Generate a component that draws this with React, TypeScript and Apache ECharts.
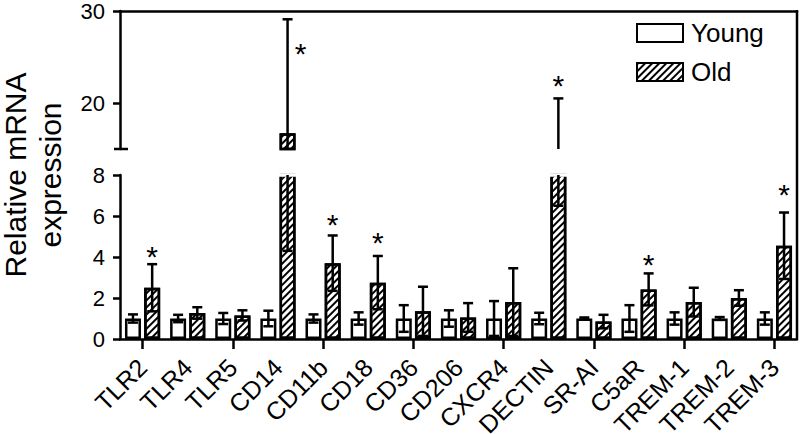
import React, { useEffect, useRef } from 'react';
import * as echarts from 'echarts';

const categories = ['TLR2', 'TLR4', 'TLR5', 'CD14', 'CD11b', 'CD18', 'CD36', 'CD206', 'CXCR4', 'DECTIN', 'SR-AI', 'C5aR', 'TREM-1', 'TREM-2', 'TREM-3'];
const youngMean = [1.0, 1.0, 1.0, 1.0, 1.0, 1.0, 1.0, 1.0, 1.0, 1.0, 1.0, 1.0, 1.0, 1.0, 1.0];
const youngErr = [0.2, 0.18, 0.27, 0.38, 0.2, 0.3, 0.65, 0.4, 0.85, 0.28, 0.05, 0.65, 0.3, 0.07, 0.3];
const oldMean = [2.5, 1.27, 1.15, 16.7, 3.7, 2.75, 1.35, 1.05, 1.8, 13.5, 0.85, 2.42, 1.8, 2.0, 4.55];
const oldErr = [1.15, 0.28, 0.25, 12.4, 1.35, 1.3, 1.2, 0.7, 1.65, 7.0, 0.33, 0.78, 0.7, 0.38, 1.62];
const starCategories = ['TLR2', 'CD14', 'CD11b', 'CD18', 'DECTIN', 'C5aR', 'TREM-3'];
const starValues = [4.35, 26.1, 5.95, 5.07, 22.7, 4.0, 7.37];
const lowerRange = [0, 8];
const upperRange = [15, 30];
const lowerTicks = [0, 2, 4, 6, 8];
const upperTicks = [20, 30];
const seriesNames = ['Young', 'Old'];
const yNameLines = ['Relative mRNA', 'expression'];

const FONT = "'Liberation Sans', Arial, Helvetica, sans-serif";
const BAR_W = 16;
const BAR_GAP = 0.2;
const HALF = (BAR_W * (1 + BAR_GAP)) / 2;
const LW = 2.5;

const hatch = {
  symbol: 'rect',
  symbolSize: 1,
  dashArrayX: [1, 0],
  dashArrayY: [1.3, 2.8],
  rotation: -Math.PI / 4,
  color: '#000',
};

const youngStyle = { color: '#fff', borderColor: '#000', borderWidth: LW };
const oldStyle = { color: '#fff', borderColor: '#000', borderWidth: LW, decal: hatch };

function errorRender(dx: number) {
  return (params: any, api: any) => {
    const i = api.value(0);
    const m = api.value(1);
    const e = api.value(2);
    const top = api.coord([i, m + e]);
    const bot = api.coord([i, m - e]);
    const x = top[0] + dx;
    const cap = 5;
    const style = { stroke: '#000', lineWidth: LW };
    return {
      type: 'group',
      children: [
        { type: 'line', shape: { x1: x, y1: top[1], x2: x, y2: bot[1] }, style },
        { type: 'line', shape: { x1: x - cap, y1: top[1], x2: x + cap, y2: top[1] }, style },
        { type: 'line', shape: { x1: x - cap, y1: bot[1], x2: x + cap, y2: bot[1] }, style },
      ],
    };
  };
}

function starRender(params: any, api: any) {
  const i = api.value(0);
  const v = api.value(1);
  const errTop = api.value(2);
  const p = api.coord([i, v]);
  const beside = v < errTop;
  return {
    type: 'text',
    x: p[0] + HALF + (beside ? 13 : 0),
    y: p[1] + 7,
    style: {
      text: '*',
      font: `30px ${FONT}`,
      fill: '#000',
      align: 'center',
      verticalAlign: 'middle',
    },
  };
}

export default function App() {
  const ref = useRef<HTMLDivElement>(null);
  useEffect(() => {
    document.body.style.margin = '0';
    if (!ref.current) return;
    const chart = echarts.init(ref.current, null, { renderer: 'svg' });

    const stars = starCategories.map((c, k) => {
      const i = categories.indexOf(c);
      return [i, starValues[k], oldMean[i] + oldErr[i]];
    });
    const starsLower = stars.filter((s) => s[1] <= lowerRange[1]);
    const starsUpper = stars.filter((s) => s[1] >= upperRange[0]);

    const youngErrData = youngMean.map((m, i) => [i, m, youngErr[i]]);
    const oldErrData = oldMean.map((m, i) => [i, m, oldErr[i]]);

    const axisLine = { show: true, onZero: false, lineStyle: { color: '#000', width: LW } };
    const yLabel = { color: '#000', fontSize: 22, fontFamily: FONT, margin: 15 };
    const yTick = { show: true, length: 7, lineStyle: { color: '#000', width: LW } };

    const baseGraphic: any[] = [
      ...yNameLines.map((t, k) => ({
        id: 'yname' + k,
        type: 'text',
        x: 15 + k * 35,
        y: 175,
        rotation: Math.PI / 2,
        style: { text: t, font: `30px ${FONT}`, fill: '#000', align: 'center', verticalAlign: 'middle' },
      })),
      { id: 'cover', type: 'rect', shape: { x: 122, y: 173.3, width: 673, height: 3.4 }, style: { fill: '#fff' }, z: 3 },
      { id: 'brk', type: 'line', shape: { x1: 114, y1: 149, x2: 128, y2: 149 }, style: { stroke: '#000', lineWidth: LW }, z: 4 },
      { id: 'rborder', type: 'line', shape: { x1: 797, y1: 10, x2: 797, y2: 339 }, style: { stroke: '#000', lineWidth: LW }, z: 4 },
    ];

    const option: any = {
      animation: false,
      backgroundColor: '#fff',
      grid: [
        { left: 120, right: 3, top: 11, height: 138, outerBoundsMode: 'none' },
        { left: 120, right: 3, top: 175, height: 164, outerBoundsMode: 'none' },
      ],
      legend: {
        data: seriesNames,
        orient: 'vertical',
        left: 636,
        top: 20,
        padding: 0,
        icon: 'rect',
        itemWidth: 46,
        itemHeight: 18,
        itemGap: 13,
        selectedMode: false,
        textStyle: { fontSize: 26, fontFamily: FONT, color: '#000', lineHeight: 25, padding: [0, 0, 0, 3] },
      },
      xAxis: [
        {
          type: 'category',
          gridIndex: 0,
          data: categories,
          position: 'top',
          axisLine,
          axisTick: { show: false },
          axisLabel: { show: false },
        },
        {
          type: 'category',
          gridIndex: 1,
          data: categories,
          position: 'bottom',
          axisLine,
          axisTick: { show: true, alignWithLabel: true, length: 10, lineStyle: { color: '#000', width: LW } },
          axisLabel: { show: false },
        },
      ],
      yAxis: [
        {
          type: 'value',
          gridIndex: 0,
          min: upperRange[0],
          max: upperRange[1],
          splitLine: { show: false },
          axisLine,
          axisTick: { ...yTick, customValues: upperTicks },
          axisLabel: { ...yLabel, customValues: upperTicks },
        },
        {
          type: 'value',
          gridIndex: 1,
          min: lowerRange[0],
          max: lowerRange[1],
          interval: 2,
          splitLine: { show: false },
          axisLine,
          axisTick: { ...yTick, customValues: lowerTicks },
          axisLabel: { ...yLabel, customValues: lowerTicks },
        },
      ],
      series: [
        { name: 'Young', type: 'bar', xAxisIndex: 1, yAxisIndex: 1, data: youngMean, barWidth: BAR_W, barGap: `${BAR_GAP * 100}%`, itemStyle: youngStyle },
        { name: 'Old', type: 'bar', xAxisIndex: 1, yAxisIndex: 1, data: oldMean, barWidth: BAR_W, barGap: `${BAR_GAP * 100}%`, itemStyle: oldStyle },
        { name: 'Young', type: 'bar', xAxisIndex: 0, yAxisIndex: 0, data: youngMean, barWidth: BAR_W, barGap: `${BAR_GAP * 100}%`, itemStyle: youngStyle, clip: true },
        { name: 'Old', type: 'bar', xAxisIndex: 0, yAxisIndex: 0, data: oldMean, barWidth: BAR_W, barGap: `${BAR_GAP * 100}%`, itemStyle: oldStyle, clip: true },
        { name: 'yerrL', type: 'custom', xAxisIndex: 1, yAxisIndex: 1, data: youngErrData, renderItem: errorRender(-HALF), clip: true, z: 5 },
        { name: 'oerrL', type: 'custom', xAxisIndex: 1, yAxisIndex: 1, data: oldErrData, renderItem: errorRender(HALF), clip: true, z: 5 },
        { name: 'yerrU', type: 'custom', xAxisIndex: 0, yAxisIndex: 0, data: youngErrData, renderItem: errorRender(-HALF), clip: true, z: 5 },
        { name: 'oerrU', type: 'custom', xAxisIndex: 0, yAxisIndex: 0, data: oldErrData, renderItem: errorRender(HALF), clip: true, z: 5 },
        { name: 'starL', type: 'custom', xAxisIndex: 1, yAxisIndex: 1, data: starsLower, renderItem: starRender, z: 6 },
        { name: 'starU', type: 'custom', xAxisIndex: 0, yAxisIndex: 0, data: starsUpper, renderItem: starRender, z: 6 },
      ],
      graphic: baseGraphic,
    };
    chart.setOption(option);

    const labels = categories.map((c, i) => {
      const p = chart.convertToPixel({ xAxisIndex: 1, yAxisIndex: 1 } as any, [i, lowerRange[0]]) as number[];
      return {
        id: 'xl' + i,
        type: 'text',
        x: p[0],
        y: p[1] + 24,
        rotation: Math.PI / 4,
        style: { text: c, font: `25px ${FONT}`, fill: '#000', align: 'right', verticalAlign: 'middle' },
        z: 6,
      };
    });
    chart.setOption({ graphic: baseGraphic.concat(labels) });

    return () => chart.dispose();
  }, []);
  return <div ref={ref} style={{ width: 800, height: 434 }} />;
}
